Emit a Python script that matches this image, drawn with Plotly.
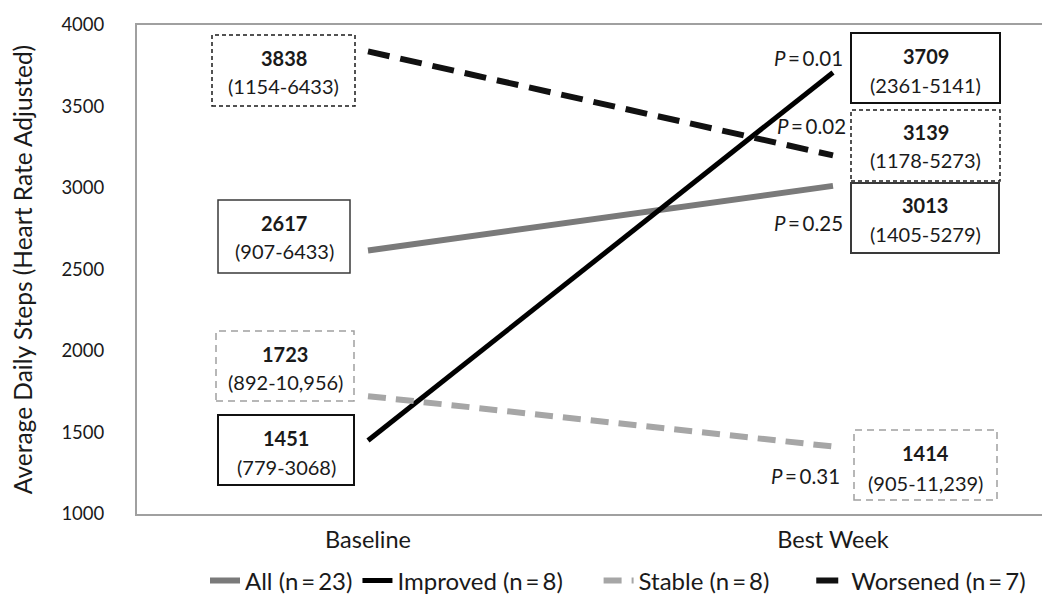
import plotly.graph_objects as go

# ---------------- data ----------------
timepoints = ["Baseline", "Best Week"]
groups = ["All (n\u2009=\u200923)", "Improved (n\u2009=\u20098)", "Stable (n\u2009=\u20098)", "Worsened (n\u2009=\u20097)"]
baseline_steps = [2617, 1451, 1723, 3838]
bestweek_steps = [3013, 3709, 1414, 3200]

baseline_median = ["2617", "1451", "1723", "3838"]
baseline_range = ["(907-6433)", "(779-3068)", "(892-10,956)", "(1154-6433)"]
bestweek_median = ["3013", "3709", "1414", "3139"]
bestweek_range = ["(1405-5279)", "(2361-5141)", "(905-11,239)", "(1178-5273)"]
p_values = ["0.25", "0.01", "0.31", "0.02"]

y_ticks = [1000, 1500, 2000, 2500, 3000, 3500, 4000]

# ---------------- styles ----------------
FONT = "Lato"
TXT = "#1a1a1a"
line_colors = ["#7a7a7a", "#000000", "#a6a6a6", "#111111"]
line_widths = [6, 5, 6, 6]
line_dash = ["solid", "solid", "18px,10px", "22px,11px"]
legend_pad = [0, 5, 6, 0]  # extra trailing spacing (non-breaking spaces) per legend entry

# pixel layout of the plot area
PX_L, PX_R, PY_T, PY_B = 129, 1050, 17, 506
X0_PX, X1_PX = 360, 825
def xd(px):
    return (px - X0_PX) / (X1_PX - X0_PX)
def yd(py):
    return 4000 - (py - PY_T) * 3000 / (PY_B - PY_T)

fig = go.Figure()
for i, g in enumerate(groups):
    fig.add_trace(go.Scatter(
        x=timepoints, y=[baseline_steps[i], bestweek_steps[i]],
        mode="lines", name=g + "\u00a0" * legend_pad[i],
        line=dict(color=line_colors[i], width=line_widths[i], dash=line_dash[i]),
    ))

# label boxes: (group index, side, x-left, x-right, y-top, y-bottom, num-y, range-y, border color, width, dash)
boxes = [
    (3, 0, 204, 347, 27, 98, 50, 78, "#1a1a1a", 1.5, "4px,3px"),
    (0, 0, 210, 342, 192, 265, 215, 243, "#3a3a3a", 1.5, "solid"),
    (2, 0, 208, 346, 323, 393, 346, 374, "#a0a0a0", 1.5, "7px,5px"),
    (1, 0, 210, 346, 407, 477, 430, 459, "#111111", 2, "solid"),
    (1, 1, 843, 992, 25, 95, 48, 77, "#111111", 2, "solid"),
    (3, 1, 843, 992, 102, 173, 124, 152, "#1a1a1a", 1.5, "4px,3px"),
    (0, 1, 843, 991, 175, 245, 197, 226, "#3a3a3a", 2, "solid"),
    (2, 1, 846, 989, 422, 492, 445, 475, "#a0a0a0", 1.5, "7px,5px"),
]
shapes = []
annotations = []
for gi, side, xl, xr, yt, yb, ny, ry, bc, bw, bd in boxes:
    shapes.append(dict(type="rect", xref="x", yref="y",
                       x0=xd(xl), x1=xd(xr), y0=yd(yb), y1=yd(yt),
                       line=dict(color=bc, width=bw, dash=bd),
                       fillcolor="white", layer="above"))
    med = baseline_median[gi] if side == 0 else bestweek_median[gi]
    rng = baseline_range[gi] if side == 0 else bestweek_range[gi]
    cx = xd((xl + xr) / 2)
    annotations.append(dict(x=cx, y=yd(ny), xref="x", yref="y", text="<b>%s</b>" % med,
                            showarrow=False, font=dict(family=FONT, size=20, color=TXT)))
    annotations.append(dict(x=cx, y=yd(ry), xref="x", yref="y", text=rng,
                            showarrow=False, font=dict(family=FONT, size=20, color=TXT)))

# P-value labels (group index, right-edge px, center y px)
p_pos = [(1, 837, 50), (3, 840, 118), (0, 837, 215), (2, 834, 468)]
for gi, xr, yc in p_pos:
    annotations.append(dict(x=xd(xr), y=yd(yc), xref="x", yref="y", xanchor="right",
                            text="<i>P</i>\u2009=\u2009%s" % p_values[gi], showarrow=False,
                            font=dict(family=FONT, size=20.5, color=TXT)))

fig.update_layout(
    width=1050, height=597,
    margin=dict(l=PX_L, r=1050 - PX_R, t=PY_T, b=597 - PY_B),
    paper_bgcolor="white", plot_bgcolor="white",
    font=dict(family=FONT, color=TXT),
    shapes=shapes, annotations=annotations,
    showlegend=True,
    legend=dict(orientation="h", x=(197 - PX_L) / (PX_R - PX_L), xanchor="left",
                y=-0.137, yanchor="middle",
                font=dict(family=FONT, size=24, color=TXT), itemwidth=30,
                traceorder="normal"),
    xaxis=dict(type="category", range=[xd(PX_L), xd(PX_R)], showgrid=False,
               showline=True, linecolor="#a0a0a0", linewidth=2, mirror=True,
               ticks="", tickfont=dict(family=FONT, size=23.5, color=TXT),
               ticklabelstandoff=4, zeroline=False),
    yaxis=dict(range=[1000, 4000], tickvals=y_ticks, showgrid=False,
               showline=True, linecolor="#a0a0a0", linewidth=2,
               ticks="", tickfont=dict(family=FONT, size=18.5, color=TXT),
               ticklabelstandoff=27, zeroline=False,
               title=dict(text="Average Daily Steps (Heart Rate Adjusted)", standoff=22,
                          font=dict(family=FONT, size=24.5, color=TXT))),
)

fig.write_html("out.html")
